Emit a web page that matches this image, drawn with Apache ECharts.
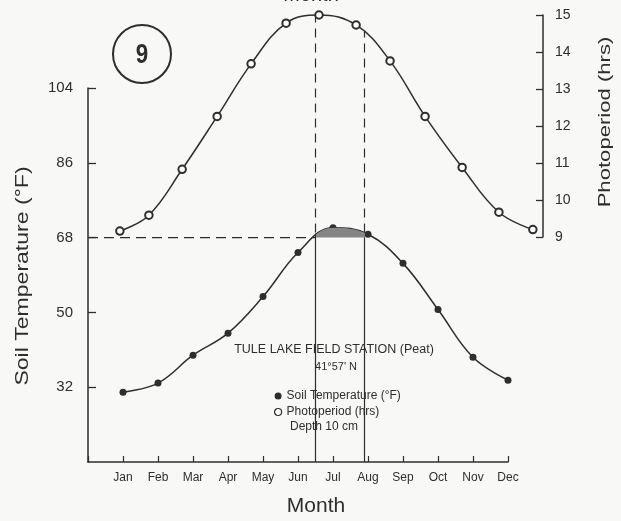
<!DOCTYPE html>
<html>
<head>
<meta charset="utf-8">
<script src="https://cdn.jsdelivr.net/npm/echarts@6/dist/echarts.min.js"></script>
<style>html,body{margin:0;padding:0;background:#f8f8f7;}#c{width:621px;height:521px;}</style>
</head>
<body>
<div id="c"></div>
<script>
// ---- data ----
var months = ['Jan','Feb','Mar','Apr','May','Jun','Jul','Aug','Sep','Oct','Nov','Dec'];
var tempMonth = [1,2,3,4,5,6,7,8,9,10,11,12];
var tempValues = [30.8, 33.0, 39.7, 45.0, 53.8, 64.4, 70.4, 68.8, 61.8, 50.7, 39.2, 33.7];
var photoMonth = [0.91, 1.74, 2.69, 3.69, 4.66, 5.66, 6.6, 7.66, 8.63, 9.63, 10.69, 11.74, 12.71];
var photoValues = [9.16, 9.59, 10.83, 12.26, 13.68, 14.78, 15.0, 14.73, 13.76, 12.26, 10.88, 9.67, 9.2];
var tempTicks = [32, 50, 68, 86, 104];
var photoTicks = [9, 10, 11, 12, 13, 14, 15];
var threshold = 68;            // deg F reference line
var crossMonths = [6.5, 7.9];  // months where soil temperature crosses 68 F
var crossTopHrs = [15.0, 14.55]; // photoperiod at those months
var crossLowHrs = 9.12;        // photoperiod level of the 68 F line
var tempAxisMin = 14;

var ink = '#2e2e2e';
var sansF = "'Liberation Sans', Arial, sans-serif";

function pairs(xs, ys){ return xs.map(function(x,i){ return [x, ys[i]]; }); }

var chart = echarts.init(document.getElementById('c'), null, {renderer:'canvas'});

var series = [
  {
    name: 'Soil Temperature (°F)', type: 'line', xAxisIndex: 0, yAxisIndex: 0,
    data: pairs(tempMonth, tempValues), smooth: 0.4,
    symbol: 'circle', symbolSize: 7,
    itemStyle: {color: ink},
    lineStyle: {color: ink, width: 1.5}, z: 5
  },
  {
    name: 'hatch', type: 'line', xAxisIndex: 0, yAxisIndex: 0,
    data: pairs(tempMonth, tempValues), smooth: 0.4,
    showSymbol: false, lineStyle: {width: 0, opacity: 0},
    areaStyle: {origin: threshold, opacity: 1}, z: 6, silent: true
  },
  {
    name: 'Photoperiod (hrs)', type: 'line', xAxisIndex: 1, yAxisIndex: 1,
    data: pairs(photoMonth, photoValues), smooth: 0.4, clip: false,
    symbol: 'emptyCircle', symbolSize: 7.5,
    itemStyle: {color: ink, borderWidth: 1.4},
    lineStyle: {color: ink, width: 1.5}, z: 5
  },
  {
    name: 'h68', type: 'line', xAxisIndex: 0, yAxisIndex: 0,
    data: [[0, threshold], [crossMonths[0], threshold]], symbol: 'none',
    lineStyle: {color: ink, width: 1.4, type: [10, 6]}, silent: true
  }
];
crossMonths.forEach(function(m, i){
  series.push({
    name: 'vs' + i, type: 'line', xAxisIndex: 0, yAxisIndex: 0,
    data: [[m, tempAxisMin], [m, threshold + 1]], symbol: 'none',
    lineStyle: {color: ink, width: 1.2}, silent: true
  });
  series.push({
    name: 'vd' + i, type: 'line', xAxisIndex: 1, yAxisIndex: 1,
    data: [[m, crossLowHrs], [m, crossTopHrs[i]]], symbol: 'none',
    lineStyle: {color: ink, width: 1.2, type: [9, 6]}, silent: true
  });
});

var option = {
  backgroundColor: '#f8f8f7',
  animation: false,
  textStyle: {fontFamily: sansF, color: ink},
  grid: [
    {left: 88, top: 88, width: 420, height: 374},
    {left: 88, top: 15, width: 455, height: 222}
  ],
  xAxis: [
    {
      type: 'value', gridIndex: 0, min: 0, max: 12, interval: 1,
      axisLine: {show: true, onZero: false, lineStyle: {color: ink, width: 1.5}},
      axisTick: {show: true, inside: true, length: 6, lineStyle: {color: ink, width: 1.2}},
      axisLabel: {
        margin: 10, fontSize: 12, color: ink, fontFamily: sansF,
        formatter: function(v){ return months[v - 1] || ''; }
      },
      splitLine: {show: false}
    },
    {type: 'value', gridIndex: 1, min: 0, max: 13, show: false}
  ],
  yAxis: [
    {
      type: 'value', gridIndex: 0, min: tempAxisMin, max: 104, interval: 18,
      axisLine: {show: true, onZero: false, lineStyle: {color: ink, width: 1.5}},
      axisTick: {show: true, inside: true, length: 8, lineStyle: {color: ink, width: 1.3}},
      axisLabel: {
        margin: 15, fontSize: 15, color: ink, showMinLabel: false,
        formatter: function(v){ return tempTicks.indexOf(v) >= 0 ? String(v) : ''; }
      },
      splitLine: {show: false}
    },
    {
      type: 'value', gridIndex: 1, position: 'right', min: 9, max: 15, interval: 1,
      axisLine: {show: true, onZero: false, lineStyle: {color: ink, width: 1.5}},
      axisTick: {show: true, inside: true, length: 7, lineStyle: {color: ink, width: 1.3}},
      axisLabel: {
        margin: 12, fontSize: 14, color: ink,
        formatter: function(v){ return photoTicks.indexOf(v) >= 0 ? String(v) : ''; }
      },
      splitLine: {show: false}
    }
  ],
  visualMap: [{
    type: 'piecewise', show: false, seriesIndex: 1, dimension: 0,
    pieces: [{gte: crossMonths[0], lte: crossMonths[1], color: '#858585'}],
    outOfRange: {color: 'rgba(0,0,0,0)'}
  }],
  legend: {
    orient: 'vertical', left: 269, top: 385, itemWidth: 7, itemHeight: 7, itemGap: 4,
    textStyle: {fontSize: 12, color: ink, fontFamily: sansF},
    data: [
      {name: 'Soil Temperature (°F)', icon: 'circle', itemStyle: {color: ink, borderWidth: 0}},
      {name: 'Photoperiod (hrs)', icon: 'circle', itemStyle: {color: '#fff', borderColor: ink, borderWidth: 1.2}}
    ]
  },
  graphic: [
    {type: 'circle', shape: {cx: 142, cy: 54, r: 29}, style: {fill: 'none', stroke: ink, lineWidth: 2}},
    {type: 'text', x: 142, y: 55, scaleX: 0.8, style: {text: '9', font: 'bold 28px ' + sansF, fill: ink, align: 'center', verticalAlign: 'middle'}},
    {type: 'text', x: 23, y: 276, rotation: Math.PI / 2, scaleX: 1.28,
      style: {text: 'Soil Temperature (°F)', font: '18px ' + sansF, fill: ink, align: 'center', verticalAlign: 'middle'}},
    {type: 'text', x: 605, y: 122, rotation: Math.PI / 2, scaleX: 1.3,
      style: {text: 'Photoperiod (hrs)', font: '17px ' + sansF, fill: ink, align: 'center', verticalAlign: 'middle'}},
    {type: 'text', x: 316, y: 506, style: {text: 'Month', font: '21px ' + sansF, fill: ink, align: 'center', verticalAlign: 'middle'}},
    {type: 'text', x: 311, y: -4.5, style: {text: 'Month', font: '20px ' + sansF, fill: ink, align: 'center', verticalAlign: 'middle'}},
    {type: 'text', x: 334, y: 350, style: {text: 'TULE LAKE FIELD STATION (Peat)', font: '12.5px ' + sansF, fill: ink, align: 'center', verticalAlign: 'middle'}},
    {type: 'text', x: 336, y: 367, style: {text: "41°57' N", font: '11px ' + sansF, fill: ink, align: 'center', verticalAlign: 'middle'}},
    {type: 'text', x: 324, y: 427, style: {text: 'Depth 10 cm', font: '12px ' + sansF, fill: ink, align: 'center', verticalAlign: 'middle'}}
  ],
  series: series
};
chart.setOption(option);
</script>
</body>
</html>
